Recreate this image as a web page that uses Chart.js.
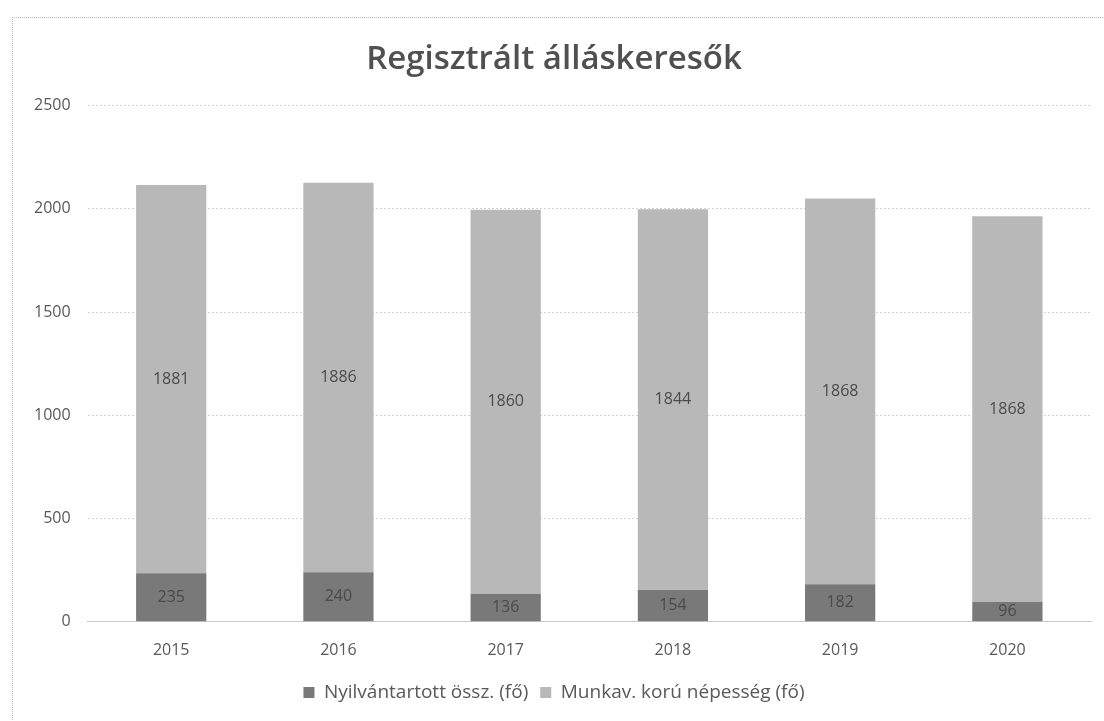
<!DOCTYPE html>
<html lang="hu">
<head>
<meta charset="utf-8">
<title>Regisztrált álláskeresők</title>
<script src="https://cdn.jsdelivr.net/npm/chart.js@4/dist/chart.umd.min.js"></script>
<style>
  html, body { margin: 0; padding: 0; background: #fff; }
  #frame {
    position: absolute; left: 12px; top: 17px;
    width: 1090px; height: 704px;
    border-left: 1px dotted #b5b5b5; border-top: 1px dotted #b5b5b5;
  }
  #chart { display: block; }
</style>
</head>
<body>
<div id="frame"><canvas id="chart" width="1090" height="704"></canvas></div>
<script>
"use strict";

// ── DATA ───────────────────────────────────
const years      = ["2015", "2016", "2017", "2018", "2019", "2020"];
const registered = [235, 240, 136, 154, 182, 96];          // Nyilvántartott össz. (fő)
const workingAge = [1881, 1886, 1860, 1844, 1868, 1868];    // Munkav. korú népesség (fő)
const yTicks     = [0, 500, 1000, 1500, 2000, 2500];

const FONT = "'Open Sans', 'Liberation Sans', sans-serif";

// ── value labels in the middle of each segment ──
const segmentLabels = {
  id: "segmentLabels",
  afterDatasetsDraw(chart) {
    const ctx = chart.ctx;
    ctx.save();
    ctx.font = "16px " + FONT;
    ctx.fillStyle = "#4a4a4a";
    ctx.textAlign = "center";
    ctx.textBaseline = "middle";
    chart.data.datasets.forEach((ds, i) => {
      chart.getDatasetMeta(i).data.forEach((bar, j) => {
        const mid = (bar.y + bar.base) / 2;
        ctx.fillText(String(ds.data[j]), bar.x, mid);
      });
    });
    ctx.restore();
  }
};

new Chart(document.getElementById("chart"), {
  type: "bar",
  data: {
    labels: years,
    datasets: [{
      label: "Nyilvántartott össz. (fő)",
      data: registered,
      backgroundColor: "#797979",
      barPercentage: 0.42,
      categoryPercentage: 1,
    }, {
      label: "Munkav. korú népesség (fő)",
      data: workingAge,
      backgroundColor: "#b8b8b8",
      barPercentage: 0.42,
      categoryPercentage: 1,
    }]
  },
  options: {
    responsive: false,
    animation: false,
    layout: { padding: { left: 4, right: 12, top: 14, bottom: 10 } },
    scales: {
      x: {
        stacked: true,
        grid: { display: false },
        border: { color: "#c8c8c8" },
        ticks: { color: "#595959", font: { family: FONT, size: 16 }, padding: 11 },
      },
      y: {
        stacked: true,
        min: 0, max: 2500,
        afterBuildTicks: axis => { axis.ticks = yTicks.map(v => ({ value: v })); },
        grid: { color: "#d4d4d4", drawTicks: false },
        border: { display: false, dash: [2, 2] },
        ticks: {
          color: "#595959", font: { family: FONT, size: 16 }, padding: 17,
          callback: v => String(v),
        },
      }
    },
    plugins: {
      title: {
        display: true,
        text: "Regisztrált álláskeresők",
        color: "#505050",
        font: { family: FONT, size: 33, weight: "600" },
        padding: { top: 8, bottom: 26 },
      },
      legend: {
        position: "bottom",
        labels: {
          color: "#595959",
          font: { family: FONT, size: 19 },
          boxWidth: 11, boxHeight: 11,
          padding: 12,
        }
      },
      tooltip: { enabled: false },
    }
  },
  plugins: [segmentLabels]
});
</script>
</body>
</html>
